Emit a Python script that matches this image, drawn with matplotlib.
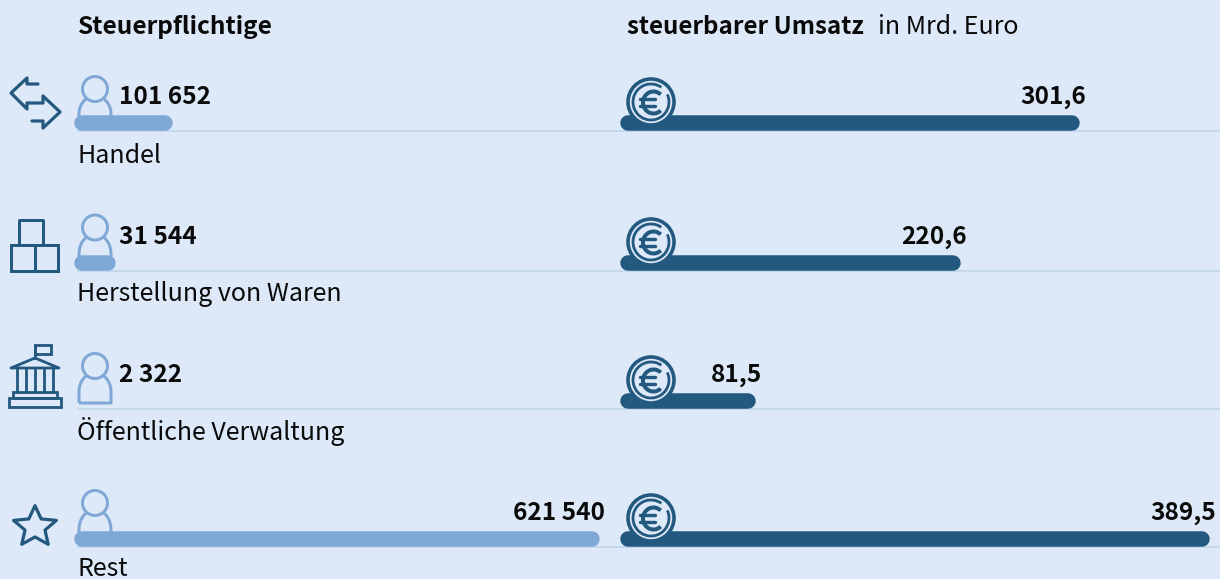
import numpy as np
import matplotlib
matplotlib.use("Agg")
import matplotlib.pyplot as plt
from matplotlib.patches import Circle, Arc, Polygon, Rectangle, PathPatch
from matplotlib.path import Path

categories = ["Handel", "Herstellung von Waren", "Öffentliche Verwaltung", "Rest"]
taxpayers = [101652, 31544, 2322, 621540]
taxpayer_labels = ["101 652", "31 544", "2 322", "621 540"]
turnover = [301.6, 220.6, 81.5, 389.5]
turnover_labels = ["301,6", "220,6", "81,5", "389,5"]
header_left = "Steuerpflichtige"
header_right = "steuerbarer Umsatz"
header_unit = "in Mrd. Euro"

BG = "#DDE9F8"; LIGHT = "#7FA8D6"; DARK = "#24597F"; RULE = "#BCD3EA"; INK = "#0A0A0A"
W, H = 1220, 579
FONT = "Noto Sans CJK SC"
FS = 18.0
FSB = 17.6
baselines = [131, 271, 409, 547]
label_offset = [32, 30, 30.5, 29.5]
head_offset = [42, 43.5, 43, 44]
left_val_x = [119, 119, 119, 605]
right_val_x = [1086, 967, 762, 1216]
px = 0.72

fig = plt.figure(figsize=(W/100, H/100), dpi=100, facecolor=BG)
bgax = fig.add_axes([0, 0, 1, 1]); bgax.set_xlim(0, W); bgax.set_ylim(H, 0); bgax.axis("off")

def data_ax(x0, x1):
    ax = fig.add_axes([x0/W, 0, (x1-x0)/W, 1], facecolor="none")
    ax.set_ylim(H, 0); ax.axis("off")
    return ax

axL = data_ax(82, 592); axL.set_xlim(0, 621540)
axR = data_ax(628, 1202); axR.set_xlim(0, 389.5)
ov = fig.add_axes([0, 0, 1, 1], facecolor="none"); ov.set_xlim(0, W); ov.set_ylim(H, 0); ov.axis("off")

for b in baselines:
    bgax.plot([77, W], [b, b], color=RULE, lw=1.5*px, solid_capstyle="butt")

def person(ax, b, head):
    x = 95
    lw = 3*px
    top = head - 7
    verts = [(x-16, b-6), (x-16, b-17), (x-16, b-top+8), (x-9, b-top), (x, b-top),
             (x+9, b-top), (x+16, b-top+8), (x+16, b-17), (x+16, b-6), (x-16, b-6)]
    codes = [Path.MOVETO, Path.LINETO, Path.CURVE4, Path.CURVE4, Path.CURVE4,
             Path.CURVE4, Path.CURVE4, Path.CURVE4, Path.LINETO, Path.LINETO]
    ax.add_patch(PathPatch(Path(verts, codes), fc="none", ec=LIGHT, lw=lw, zorder=1, joinstyle="round"))
    ax.add_patch(Circle((x, b-head), 12.5, fc=BG, ec=LIGHT, lw=lw, zorder=1.5))

def euro(ax, b):
    x, y = 651, b-29
    ax.add_patch(Circle((x, y), 23, fc=BG, ec=DARK, lw=3.6*px, zorder=5))
    ax.add_patch(Arc((x, y), 36, 36, theta1=-25, theta2=-55+360, ec=DARK, lw=2.8*px, zorder=5))
    ax.add_patch(Arc((x+2.5, y+0.5), 21, 22, theta1=48, theta2=312, ec=DARK, lw=4*px, zorder=5))
    ax.plot([x-11, x+4], [y-2.7, y-2.7], color=DARK, lw=3.4*px, zorder=5, solid_capstyle="round")
    ax.plot([x-11, x+4], [y+3.7, y+3.7], color=DARK, lw=3.4*px, zorder=5, solid_capstyle="round")

def line(ax, pts, lw=2.6, closed=False):
    a = np.array(pts, dtype=float)
    ax.add_patch(Polygon(a, closed=closed, fc="none", ec=DARK, lw=lw*px, joinstyle="round", capstyle="round"))

def icon_arrows(ax, b):
    line(ax, [(38, b-47), (27, b-47), (27, b-53), (11, b-38), (27, b-22), (27, b-28), (43, b-28),
              (43, b-35), (60, b-19), (43, b-3), (43, b-10), (32, b-10)], lw=3.2)
def icon_boxes(ax, b):
    line(ax, [(19, b-26), (19, b-51), (43, b-51), (43, b-26)], closed=False, lw=3)
    ax.add_patch(Rectangle((11, b-26), 47, 26, fc="none", ec=DARK, lw=3*px))
    ax.plot([35, 35], [b-26, b], color=DARK, lw=3*px)
def icon_bank(ax, b):
    lw = 2.8
    ax.add_patch(Rectangle((35, b-64), 16, 9, fc="none", ec=DARK, lw=lw*px))
    ax.plot([35, 35], [b-64, b-51], color=DARK, lw=lw*px)
    line(ax, [(11, b-41), (35, b-51), (59, b-41)], closed=True, lw=lw)
    for cx in [17, 26, 35, 44, 53]:
        ax.plot([cx, cx], [b-41, b-17], color=DARK, lw=lw*px)
    ax.add_patch(Rectangle((13, b-17), 44, 6, fc="none", ec=DARK, lw=lw*px))
    ax.add_patch(Rectangle((9, b-11), 52, 9, fc="none", ec=DARK, lw=lw*px))
def icon_star(ax, b):
    ang = np.deg2rad(-90 + 36*np.arange(10))
    r = np.where(np.arange(10) % 2 == 0, 22.5, 10.5)
    pts = np.c_[35 + r*np.cos(ang), b-20 + 0.95*r*np.sin(ang)]
    ax.add_patch(Polygon(pts, closed=True, fc="none", ec=DARK, lw=3.2*px, joinstyle="round"))

for f, b in zip([icon_arrows, icon_boxes, icon_bank, icon_star], baselines):
    f(ov, b)

for i, b in enumerate(baselines):
    person(bgax, b, head_offset[i])
    y = b - 8
    if taxpayers[i] > 10000:
        axL.plot([0, taxpayers[i]], [y, y], color=LIGHT, lw=15.5*px, solid_capstyle="round", clip_on=False)
    axR.plot([0, turnover[i]], [y, y], color=DARK, lw=15.5*px, solid_capstyle="round", zorder=2, clip_on=False)
    euro(ov, b)
    ov.text(77, b+label_offset[i], categories[i], family=FONT, fontsize=FS, color=INK, va="baseline")
    ov.text(left_val_x[i], b-27, taxpayer_labels[i], family=FONT, fontsize=FSB, weight="bold", color=INK,
            va="baseline", ha="left" if i < 3 else "right")
    ov.text(right_val_x[i], b-27, turnover_labels[i], family=FONT, fontsize=FSB, weight="bold", color=INK,
            va="baseline", ha="right")

ov.text(78, 34, header_left, family=FONT, fontsize=FSB, weight="bold", color=INK, va="baseline")
ov.text(627, 34, header_right, family=FONT, fontsize=17.4, weight="bold", color=INK, va="baseline")
ov.text(878, 34, header_unit, family=FONT, fontsize=FS, color=INK, va="baseline")

fig.savefig("out.png", dpi=100, facecolor=BG)
